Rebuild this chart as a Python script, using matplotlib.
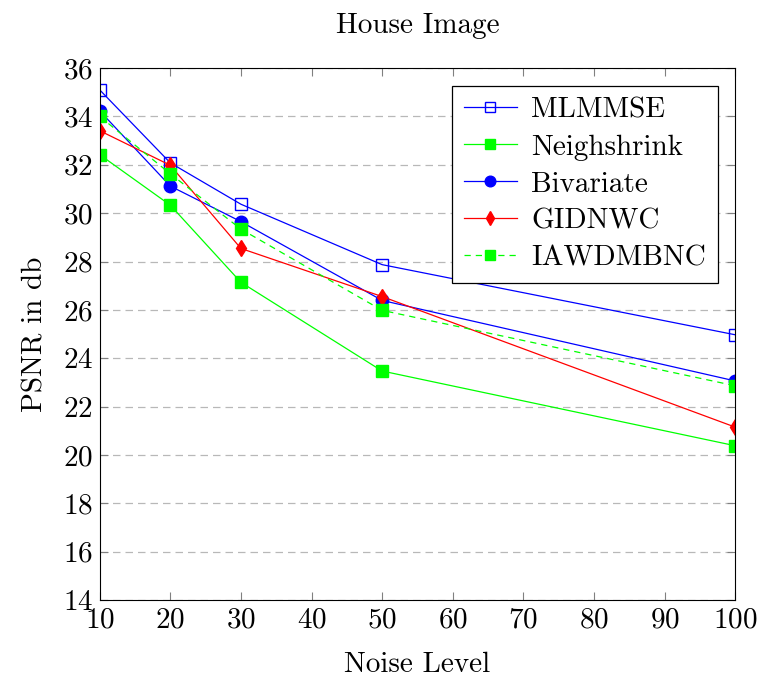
import matplotlib.pyplot as plt

plt.rcParams['font.family'] = 'cmr10'
plt.rcParams['mathtext.fontset'] = 'cm'
plt.rcParams['axes.formatter.use_mathtext'] = True

noise = [10, 20, 30, 50, 100]
mlmmse = [35.1, 32.08, 30.37, 27.87, 24.97]
neighshrink = [32.42, 30.33, 27.14, 23.47, 20.38]
bivariate = [34.23, 31.12, 29.65, 26.39, 23.06]
gidnwc = [33.41, 31.98, 28.54, 26.55, 21.15]
iawdmbnc = [34.0, 31.63, 29.34, 25.98, 22.86]

fig = plt.figure(figsize=(7.61, 6.81), dpi=100)
ax = fig.add_axes([0.131, 0.119, 0.835, 0.781])

ax.plot(noise, mlmmse, color="blue", lw=0.9, marker="s", ms=9,
        mfc="none", mec="blue", label="MLMMSE")
ax.plot(noise, neighshrink, color="#00ff00", lw=0.9, marker="s", ms=9,
        label="Neighshrink")
ax.plot(noise, bivariate, color="blue", lw=0.9, marker="o", ms=9,
        label="Bivariate")
ax.plot(noise, gidnwc, color="red", lw=0.9, marker="d", ms=8,
        label="GIDNWC")
ax.plot(noise, iawdmbnc, color="#00ff00", lw=0.9, ls=(0, (5, 4)), marker="s", ms=9,
        label="IAWDMBNC")

ax.set_xlim(10, 100)
ax.set_ylim(14, 36)
ax.set_xticks(range(10, 101, 10))
ax.set_yticks(range(14, 37, 2))
ax.yaxis.grid(True, ls=(0, (6, 4)), color="#b8b8b8", lw=0.9)
ax.tick_params(direction="in", top=True, right=True, labelsize=21, length=6,
               color="#808080", pad=5)

ax.set_title("House Image", fontsize=21, pad=25)
ax.set_xlabel("Noise Level", fontsize=21, labelpad=13)
ax.set_ylabel("PSNR in db", fontsize=21, labelpad=10)

leg = ax.legend(loc="upper right", fontsize=21, fancybox=False, edgecolor="black",
                framealpha=1, handlelength=1.8, handletextpad=0.5, markerscale=0.85,
                borderaxespad=0.6, labelspacing=0.36, borderpad=0.4)
leg.get_frame().set_linewidth(0.9)

fig.savefig("out.png", dpi=100)
